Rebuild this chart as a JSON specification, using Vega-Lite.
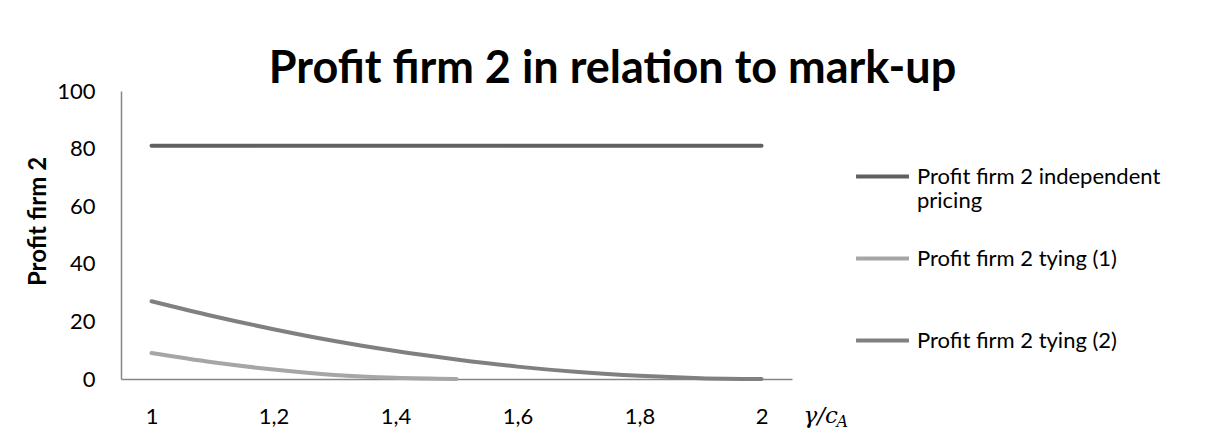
{
  "$schema": "https://vega.github.io/schema/vega-lite/v6.json",
  "width": 671,
  "height": 288,
  "padding": {"left": 26, "top": 47, "right": 5, "bottom": 5},
  "background": "white",
  "config": {
    "font": "Lato",
    "view": {"stroke": null}
  },
  "title": {
    "text": "Profit firm 2 in relation to mark-up",
    "fontSize": 45,
    "fontWeight": "bold",
    "font": "Lato",
    "color": "black",
    "frame": "group",
    "anchor": "middle",
    "dx": 156,
    "offset": -12
  },
  "data": {
    "values": [
      {"x": 1.0, "series": "Profit firm 2 independent pricing", "value": 81},
      {"x": 1.1, "series": "Profit firm 2 independent pricing", "value": 81},
      {"x": 1.2, "series": "Profit firm 2 independent pricing", "value": 81},
      {"x": 1.3, "series": "Profit firm 2 independent pricing", "value": 81},
      {"x": 1.4, "series": "Profit firm 2 independent pricing", "value": 81},
      {"x": 1.5, "series": "Profit firm 2 independent pricing", "value": 81},
      {"x": 1.6, "series": "Profit firm 2 independent pricing", "value": 81},
      {"x": 1.7, "series": "Profit firm 2 independent pricing", "value": 81},
      {"x": 1.8, "series": "Profit firm 2 independent pricing", "value": 81},
      {"x": 1.9, "series": "Profit firm 2 independent pricing", "value": 81},
      {"x": 2.0, "series": "Profit firm 2 independent pricing", "value": 81},
      {"x": 1.0, "series": "Profit firm 2 tying (1)", "value": 9},
      {"x": 1.1, "series": "Profit firm 2 tying (1)", "value": 5.8},
      {"x": 1.2, "series": "Profit firm 2 tying (1)", "value": 3.3},
      {"x": 1.3, "series": "Profit firm 2 tying (1)", "value": 1.4},
      {"x": 1.4, "series": "Profit firm 2 tying (1)", "value": 0.4},
      {"x": 1.5, "series": "Profit firm 2 tying (1)", "value": 0},
      {"x": 1.0, "series": "Profit firm 2 tying (2)", "value": 27},
      {"x": 1.1, "series": "Profit firm 2 tying (2)", "value": 21.9},
      {"x": 1.2, "series": "Profit firm 2 tying (2)", "value": 17.3},
      {"x": 1.3, "series": "Profit firm 2 tying (2)", "value": 13.2},
      {"x": 1.4, "series": "Profit firm 2 tying (2)", "value": 9.7},
      {"x": 1.5, "series": "Profit firm 2 tying (2)", "value": 6.8},
      {"x": 1.6, "series": "Profit firm 2 tying (2)", "value": 4.3},
      {"x": 1.7, "series": "Profit firm 2 tying (2)", "value": 2.4},
      {"x": 1.8, "series": "Profit firm 2 tying (2)", "value": 1.1},
      {"x": 1.9, "series": "Profit firm 2 tying (2)", "value": 0.3},
      {"x": 2.0, "series": "Profit firm 2 tying (2)", "value": 0}
    ]
  },
  "resolve": {"scale": {"x": "independent"}},
  "layer": [
    {
      "mark": {"type": "line", "strokeWidth": 4, "strokeCap": "round", "interpolate": "monotone"},
      "encoding": {
        "x": {
          "field": "x",
          "type": "quantitative",
          "scale": {"domain": [0.95, 2.05], "nice": false, "zero": false},
          "axis": {
            "values": [1, 1.2, 1.4, 1.6, 1.8, 2],
            "labelExpr": "replace(format(datum.value, '.1~f'), '.', ',')",
            "grid": false,
            "ticks": false,
            "domainColor": "#868686",
            "domainWidth": 1.5,
            "labelFontSize": 22,
            "labelColor": "black",
            "labelPadding": 27,
            "labelFont": "Lato",
            "title": "γ/c",
            "titleFont": "DejaVu Serif",
            "titleFontStyle": "italic",
            "titleFontWeight": "normal",
            "titleFontSize": 23,
            "titleColor": "black",
            "titleAnchor": "start",
            "titleAlign": "left",
            "titleBaseline": "top",
            "titleX": 682,
            "titleY": 25
          }
        },
        "y": {
          "field": "value",
          "type": "quantitative",
          "scale": {"domain": [0, 100], "nice": false},
          "axis": {
            "values": [0, 20, 40, 60, 80, 100],
            "grid": false,
            "ticks": false,
            "domainColor": "#868686",
            "domainWidth": 1.5,
            "labelFontSize": 22,
            "labelColor": "black",
            "labelPadding": 26,
            "labelFont": "Lato",
            "title": "Profit firm 2",
            "titleFontSize": 24,
            "titleFontWeight": "bold",
            "titleColor": "black",
            "titleFont": "Lato",
            "titlePadding": 6,
            "titleY": 130
          }
        },
        "color": {
          "field": "series",
          "type": "nominal",
          "sort": ["Profit firm 2 independent pricing", "Profit firm 2 tying (1)", "Profit firm 2 tying (2)"],
          "scale": {
            "domain": ["Profit firm 2 independent pricing", "Profit firm 2 tying (1)", "Profit firm 2 tying (2)"],
            "range": ["#606060", "#a6a6a6", "#808080"]
          },
          "legend": {
            "title": null,
            "orient": "none",
            "legendX": 733,
            "legendY": 57,
            "symbolType": "stroke",
            "symbolSize": 2800,
            "symbolStrokeWidth": 4,
            "labelFontSize": 22,
            "labelFont": "Lato",
            "labelColor": "black",
            "labelOffset": 6,
            "labelLimit": 400,
            "rowPadding": 18,
            "labelExpr": "datum.label == 'Profit firm 2 independent pricing' ? ['Profit firm 2 independent', 'pricing'] : [datum.label, '']"
          }
        }
      }
    },
    {
      "mark": {"type": "point", "opacity": 0},
      "encoding": {
        "x": {
          "field": "x",
          "type": "quantitative",
          "scale": {"domain": [0.95, 2.05], "nice": false, "zero": false},
          "axis": {
            "orient": "top",
            "domain": false,
            "labels": false,
            "ticks": false,
            "grid": false,
            "title": "A",
            "titleFont": "DejaVu Serif",
            "titleFontStyle": "italic",
            "titleFontWeight": "normal",
            "titleFontSize": 16,
            "titleColor": "black",
            "titleAnchor": "start",
            "titleAlign": "left",
            "titleBaseline": "top",
            "titleX": 715,
            "titleY": 322
          }
        },
        "y": {"field": "value", "type": "quantitative"}
      }
    }
  ]
}
